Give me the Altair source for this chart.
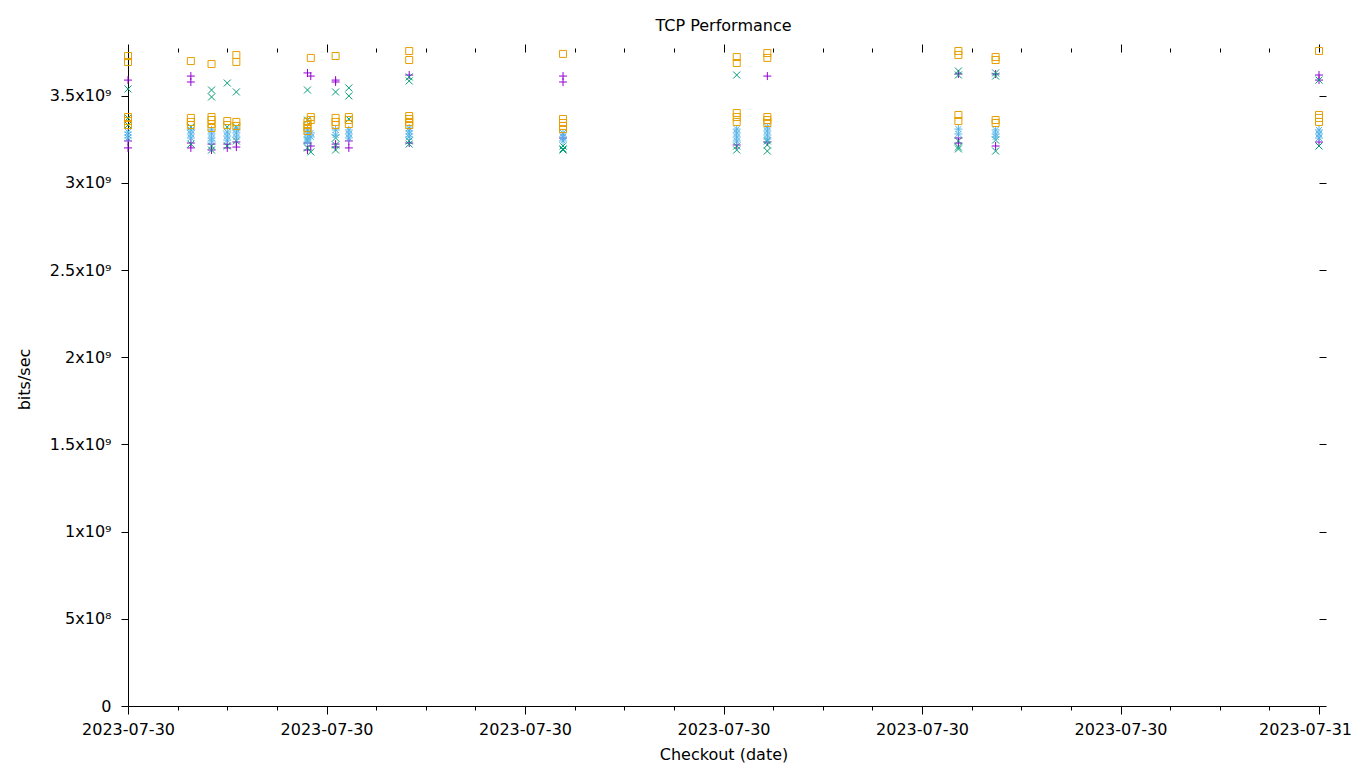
import altair as alt
import pandas as pd

# Column timestamps (local time) of the checkouts
times = [
    "2023-07-30T00:00:00", "2023-07-30T01:16:00", "2023-07-30T01:41:00",
    "2023-07-30T02:00:00", "2023-07-30T02:11:00", "2023-07-30T03:37:00",
    "2023-07-30T03:41:00", "2023-07-30T04:11:00", "2023-07-30T04:27:00",
    "2023-07-30T05:40:00", "2023-07-30T08:46:00", "2023-07-30T12:16:00",
    "2023-07-30T12:53:00", "2023-07-30T16:44:00", "2023-07-30T17:29:00",
    "2023-07-31T00:00:00",
]

# values in units of 1e9 bits/sec, one inner list per timestamp
series_a = [  # purple +
    [3.589, 3.240, 3.200], [3.612, 3.578, 3.228, 3.200], [3.222, 3.188],
    [3.222, 3.200], [3.234, 3.205], [3.630, 3.228, 3.188], [3.612, 3.211],
    [3.589, 3.578, 3.222, 3.205], [3.240, 3.200], [3.618, 3.228],
    [3.612, 3.578, 3.257], [3.217], [3.612, 3.234], [3.624, 3.257, 3.228],
    [3.624, 3.211], [3.618, 3.589, 3.234],
]
series_b = [  # green x
    [3.538, 3.372, 3.331], [3.320, 3.222], [3.532, 3.492, 3.211, 3.188],
    [3.572, 3.320, 3.211], [3.521, 3.320, 3.240], [3.532, 3.360, 3.245, 3.200],
    [3.177], [3.521, 3.257, 3.217, 3.188], [3.544, 3.498, 3.366],
    [3.607, 3.584, 3.240, 3.222], [3.211, 3.194, 3.188], [3.618, 3.211, 3.188],
    [3.240, 3.217, 3.182], [3.641, 3.618, 3.240, 3.205, 3.194],
    [3.630, 3.612, 3.245, 3.182], [3.589, 3.211],
]
series_c = [  # light blue *
    [3.291, 3.274, 3.257], [3.303, 3.280, 3.257], [3.303, 3.280, 3.257, 3.240],
    [3.291, 3.268, 3.245], [3.308, 3.286, 3.263], [3.303, 3.280, 3.257, 3.234],
    [3.286, 3.263], [3.303, 3.274], [3.303, 3.280, 3.257],
    [3.314, 3.297, 3.280, 3.263], [3.286, 3.263, 3.240],
    [3.308, 3.286, 3.263, 3.240], [3.320, 3.297, 3.274, 3.251],
    [3.308, 3.280], [3.303, 3.280, 3.263], [3.303, 3.280, 3.257],
]
series_d = [  # orange squares
    [3.727, 3.693, 3.377, 3.354, 3.331], [3.698, 3.372, 3.349, 3.331],
    [3.681, 3.377, 3.360, 3.337, 3.314], [3.354, 3.331],
    [3.733, 3.693, 3.349, 3.326], [3.349, 3.331, 3.314, 3.297],
    [3.716, 3.377, 3.360], [3.727, 3.372, 3.349, 3.331], [3.377, 3.360, 3.337],
    [3.756, 3.704, 3.383, 3.366, 3.349, 3.331], [3.739, 3.366, 3.343, 3.326, 3.308],
    [3.721, 3.687, 3.400, 3.377, 3.349], [3.744, 3.716, 3.377, 3.360, 3.343],
    [3.756, 3.733, 3.389, 3.354], [3.721, 3.704, 3.360, 3.343],
    [3.756, 3.389, 3.372, 3.349],
]

series_names = ["s1", "s2", "s3", "s4"]
series_colors = ["#9400D3", "#009E73", "#56B4E9", "#E69F00"]
series_shapes = [
    "M-1,0L1,0M0,-1L0,1",
    "M-0.875,-0.875L0.875,0.875M-0.875,0.875L0.875,-0.875",
    "M-1,0L1,0M0,-1L0,1M-0.75,-0.75L0.75,0.75M-0.75,0.75L0.75,-0.75",
    "M-0.875,-0.875L0.875,-0.875L0.875,0.875L-0.875,0.875Z",
]

rows = []
for name, vals in zip(series_names, [series_a, series_b, series_c, series_d]):
    for t, vs in zip(times, vals):
        for v in vs:
            rows.append({"time": t, "series": name, "bps": v * 1e9})
df = pd.DataFrame(rows)

FONT = "DejaVu Sans"
x_domain = [alt.DateTime(year=2023, month=7, date=30, hours=0),
            alt.DateTime(year=2023, month=7, date=31, hours=0)]
hour_ticks = [alt.DateTime(year=2023, month=7, date=30, hours=h) for h in range(24)] + \
             [alt.DateTime(year=2023, month=7, date=31, hours=0)]
y_ticks = [i * 0.5e9 for i in range(8)]

xscale = alt.Scale(domain=x_domain, nice=False)
yscale = alt.Scale(domain=[0, 3.75e9], nice=False, zero=True)

major_test = "hours(datum.value) % 4 == 0"
tick_cond = {"condition": {"test": major_test, "value": 8}, "value": 4}
last_label_shift = {"condition": {"test": "date(datum.value) == 31", "value": -14}, "value": 0}

y_label_expr = ("datum.value == 0 ? '0' : (datum.value < 1e9 ? "
                "format(datum.value/1e8, '~g') + 'x10⁸' : "
                "format(datum.value/1e9, '.2~f') + 'x10⁹')")

points = alt.Chart(df).mark_point(filled=False, strokeWidth=1, size=64, opacity=1, clip=False).encode(
    x=alt.X("time:T", scale=xscale,
            axis=alt.Axis(values=hour_ticks, tickSize=tick_cond, tickColor="black",
                          labelExpr=f"{major_test} ? timeFormat(datum.value, '%Y-%m-%d') : ''",
                          labelFont=FONT, labelFontSize=16, labelColor="black",
                          labelPadding=7, labelFlush=False, labelOverlap=False,
                          labelOffset=last_label_shift,
                          domainColor="black", grid=False,
                          title="Checkout (date)", titleFont=FONT, titleFontSize=16,
                          titleFontWeight="normal", titleColor="black",
                          titleY=48, titleBaseline="middle")),
    y=alt.Y("bps:Q", scale=yscale,
            axis=alt.Axis(values=y_ticks, tickSize=7, tickColor="black",
                          labelExpr=y_label_expr, labelFont=FONT, labelFontSize=16,
                          labelColor="black", labelPadding=10, labelFlush=False,
                          labelOverlap=False,
                          domainColor="black", grid=False,
                          title="bits/sec", titleFont=FONT, titleFontSize=16,
                          titleFontWeight="normal", titleColor="black",
                          titleX=-104, titleY=327, titleAngle=-90,
                          titleAlign="center", titleBaseline="middle")),
    color=alt.Color("series:N", scale=alt.Scale(domain=series_names, range=series_colors), legend=None),
    shape=alt.Shape("series:N", scale=alt.Scale(domain=series_names, range=series_shapes), legend=None),
)

mirror = alt.Chart(df).mark_point(opacity=0).encode(
    x=alt.X("time:T", scale=xscale,
            axis=alt.Axis(orient="top", values=hour_ticks, tickSize=tick_cond, tickColor="black",
                          labels=False, domain=False, grid=False, title=None)),
    y=alt.Y("bps:Q", scale=yscale,
            axis=alt.Axis(orient="right", values=y_ticks, tickSize=7, tickColor="black",
                          labels=False, domain=False, grid=False, title=None)),
)

chart = alt.layer(points, mirror).resolve_axis(x="independent", y="independent").properties(
    width=1191, height=654,
    title=alt.Title("TCP Performance", font=FONT, fontSize=16, fontWeight="normal",
                    color="black", offset=10),
    autosize=alt.AutoSizeParams(type="none"),
    padding={"left": 120, "top": 44, "right": 33, "bottom": 58},
).configure(background="white").configure_view(stroke=None)

chart.save("out.html", embed_options={"renderer": "svg", "actions": False})
